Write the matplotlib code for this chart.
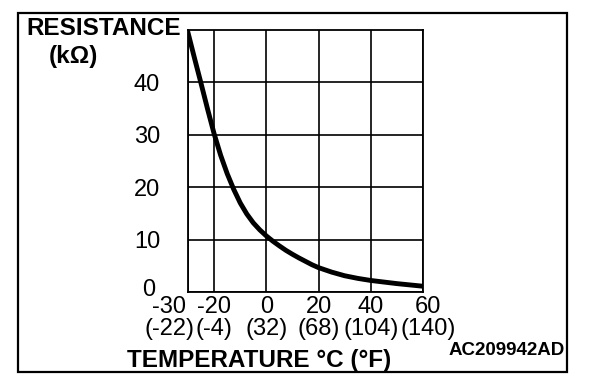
import matplotlib
matplotlib.use("Agg")
import matplotlib.pyplot as plt
from matplotlib.patches import Rectangle
from matplotlib.transforms import ScaledTranslation

# -------------------------------------------------
# DATA
# -------------------------------------------------
temp_c = [-30, -27.5, -25, -22.5, -20, -17.5, -15, -12.5, -10, -7.5, -5, -2.5,
          0, 2.5, 5, 7.5, 10, 12.5, 15, 17.5, 20, 25, 30, 35, 40, 45, 50, 55, 60]
resistance_kohm = [49.5, 44.6, 39.8, 34.9, 30.2, 26.1, 22.6, 19.6, 17.0, 14.9, 13.2, 11.85,
                   10.7, 9.7, 8.8, 7.95, 7.2, 6.5, 5.85, 5.2, 4.65, 3.8, 3.1, 2.6, 2.2, 1.9,
                   1.6, 1.35, 1.1]

x_ticks = [-30, -20, 0, 20, 40, 60]
x_labels_c = ["-30", "-20", "0", "20", "40", "60"]
x_labels_f = ["(-22)", "(-4)", "(32)", "(68)", "(104)", "(140)"]
y_ticks = [0, 10, 20, 30, 40]

plt.rcParams["font.family"] = ["Liberation Sans", "DejaVu Sans"]

W, H = 608, 390
fig = plt.figure(figsize=(W / 100, H / 100), dpi=100)
fig.patch.set_facecolor("white")

# outer frame
fig.add_artist(Rectangle((18 / W, 1 - 372 / H), (567 - 18) / W, (372 - 13) / H,
                         transform=fig.transFigure, fill=False,
                         edgecolor="black", linewidth=1.6))

ax = fig.add_axes([188 / W, 1 - 292 / H, 235 / W, 262 / H])
ax.plot(temp_c, resistance_kohm, color="black", linewidth=3.5,
        solid_joinstyle="round", zorder=3)

ax.set_xlim(-30, 60)
ax.set_ylim(0, 50)
ax.set_xticks(x_ticks, [f"{c}\n{f}" for c, f in zip(x_labels_c, x_labels_f)])
ax.set_yticks(y_ticks, [str(v) for v in y_ticks])
ax.grid(True, color="black", linewidth=1.2)
for s in ax.spines.values():
    s.set_linewidth(1.3)

ax.tick_params(axis="x", length=0, pad=3, labelsize=17)
ax.tick_params(axis="y", length=0, pad=20, labelsize=17)
for lab in ax.get_xticklabels():
    lab.set_linespacing(1.0)

# nudge the end labels like the original drawing
xt = ax.xaxis.get_major_ticks()
xt[0].label1.set_transform(xt[0].label1.get_transform()
                           + ScaledTranslation(-0.19, 0, fig.dpi_scale_trans))
xt[-1].label1.set_transform(xt[-1].label1.get_transform()
                            + ScaledTranslation(0.05, 0, fig.dpi_scale_trans))
yt = ax.yaxis.get_major_ticks()
yt[0].label1.set_transform(yt[0].label1.get_transform()
                           + ScaledTranslation(-0.05, 0.04, fig.dpi_scale_trans))

# titles
fig.text(26 / W, 1 - 35 / H, "RESISTANCE", ha="left", va="baseline",
         fontsize=17.5, fontweight="bold")
fig.text(73 / W, 1 - 63 / H, "(kΩ)", ha="center", va="baseline",
         fontsize=17.5, fontweight="bold")
fig.text(127 / W, 1 - 367 / H, "TEMPERATURE °C (°F)", ha="left", va="baseline",
         fontsize=17.5, fontweight="bold")
fig.text(565 / W, 1 - 355 / H, "AC209942AD", ha="right", va="baseline",
         fontsize=13.5, fontweight="bold")

fig.savefig("out.png", dpi=100)
